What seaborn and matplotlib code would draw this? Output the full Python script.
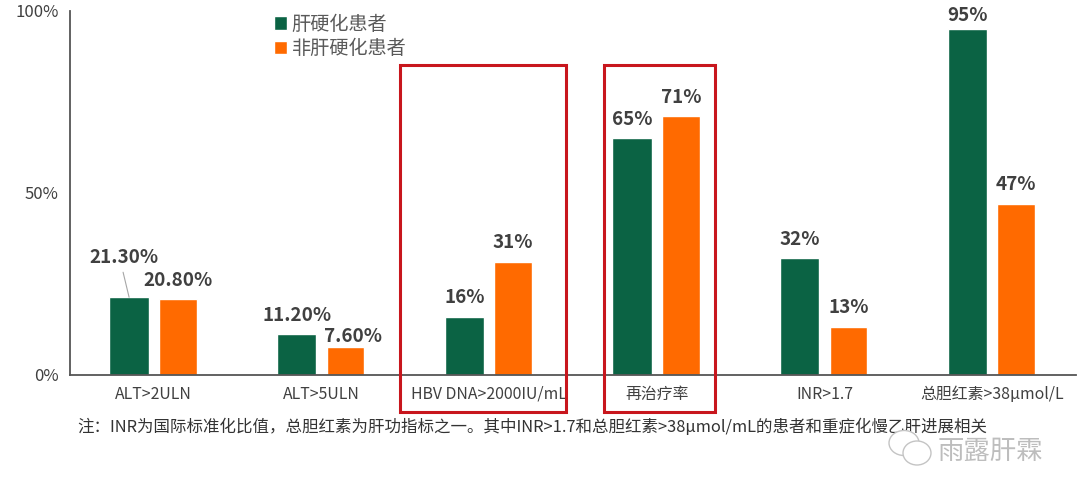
import matplotlib
matplotlib.use("Agg")
import matplotlib.pyplot as plt
from matplotlib.patches import Rectangle, Ellipse
import pandas as pd
import seaborn as sns

categories = ["ALT>2ULN", "ALT>5ULN", "HBV DNA>2000IU/mL", "再治疗率", "INR>1.7", "总胆红素>38μmol/L"]
series_names = ["肝硬化患者", "非肝硬化患者"]
cirrhosis = [21.3, 11.2, 16, 65, 32, 95]
non_cirrhosis = [20.8, 7.6, 31, 71, 13, 47]
cirrhosis_labels = ["21.30%", "11.20%", "16%", "65%", "32%", "95%"]
non_cirrhosis_labels = ["20.80%", "7.60%", "31%", "71%", "13%", "47%"]
y_ticks = [0, 50, 100]
y_tick_labels = ["0%", "50%", "100%"]
note = "注：INR为国际标准化比值，总胆红素为肝功指标之一。其中INR>1.7和总胆红素>38μmol/mL的患者和重症化慢乙肝进展相关"
watermark = "雨露肝霖"

sns.set_theme(style="white")
plt.rcParams["font.family"] = ["Noto Sans CJK SC", "DejaVu Sans"]

W, H = 1080, 497
GREEN, ORANGE, RED, DARK = "#0B6344", "#FF6A00", "#C8161D", "#404040"

df = pd.DataFrame({
    "category": categories * 2,
    "group": [series_names[0]] * 6 + [series_names[1]] * 6,
    "value": cirrhosis + non_cirrhosis,
})

fig = plt.figure(figsize=(W / 100, H / 100), dpi=100, facecolor="white")
ax = fig.add_axes([70 / W, 1 - 374.7 / H, (1076 - 70) / W, (374.7 - 11) / H])
sns.barplot(data=df, x="category", y="value", hue="group", hue_order=series_names,
            palette=[GREEN, ORANGE], width=0.5725, gap=0.21, saturation=1,
            errorbar=None, ax=ax)

ax.set_ylim(0, 100)
ax.set_xlim(-0.5, 5.5)
ax.set_xlabel("")
ax.set_ylabel("")
ax.set_yticks(y_ticks, y_tick_labels)
ax.tick_params(axis="y", length=0, pad=8, labelsize=12, labelcolor=DARK)
ax.tick_params(axis="x", length=0, pad=8, labelsize=11.4, labelcolor=DARK)
for s in ("top", "right"):
    ax.spines[s].set_visible(False)
for s in ("left", "bottom"):
    ax.spines[s].set_color("#555555")
    ax.spines[s].set_linewidth(1.3)

# the green bars start slightly further left than the orange ones are wide
unit = 6 / (1076 - 70)
for bar in ax.containers[0]:
    bar.set_x(bar.get_x() - 1.5 * unit)
    bar.set_width(bar.get_width() + 1.5 * unit)

# value labels: offsets from the bar top, in pixels
px = 72 / 100
off_a = [(-5, 40), (0, 18), (0, 19), (0, 19), (0, 19), (0, 14)]
off_b = [(0, 19), (8, 11), (0, 19), (0, 19), (0, 20), (0, 19)]
for cont, labels, offs in zip(ax.containers, (cirrhosis_labels, non_cirrhosis_labels), (off_a, off_b)):
    for bar, lab, (dx, dy) in zip(cont, labels, offs):
        ax.annotate(lab, (bar.get_x() + bar.get_width() / 2, bar.get_height()),
                    xytext=(dx * px, dy * px), textcoords="offset points",
                    ha="center", va="center", fontsize=13.6, fontweight="bold",
                    color=DARK, annotation_clip=False)

# leader line from the 21.30% label to its bar
first = ax.containers[0][0]
ax.annotate("", (first.get_x() + first.get_width() / 2, first.get_height()),
            xytext=(-6 * px, 25 * px), textcoords="offset points",
            arrowprops=dict(arrowstyle="-", color="#A6A6A6", lw=0.8, shrinkA=0, shrinkB=0))

# legend
handles, labels_ = ax.get_legend_handles_labels()
ax.legend(handles, labels_, loc="upper left", bbox_to_anchor=(271 / W, 1 - 11 / H),
          bbox_transform=fig.transFigure, frameon=False, fontsize=13.8, labelcolor="#595959",
          handlelength=0.7, handleheight=0.7, handletextpad=0.22, labelspacing=0.17,
          borderpad=0.15, borderaxespad=0)

# red highlight boxes
for x0, x1 in ((400, 566), (604, 715)):
    fig.add_artist(Rectangle((x0 / W, 1 - 412 / H), (x1 - x0) / W, (412 - 65) / H,
                             transform=fig.transFigure, fill=False, edgecolor=RED, linewidth=2.2, zorder=10))

fig.text(77 / W, 1 - 427 / H, note, fontsize=11.85, color="#333333", ha="left", va="center", zorder=5)

# watermark
def oval(cx, cy, w, h, z):
    fig.add_artist(Ellipse((cx / W, 1 - cy / H), w / W, h / H, transform=fig.transFigure,
                           facecolor="white", edgecolor="#C4C4C4", linewidth=1, zorder=z))
oval(904, 443, 30, 25, 6)
oval(917, 453, 28, 24, 7)
fig.text(938 / W, 1 - 451 / H, watermark, fontsize=19, color="#BDBDBD", ha="left", va="center", zorder=8)

fig.savefig("out.png", dpi=100, facecolor="white")
